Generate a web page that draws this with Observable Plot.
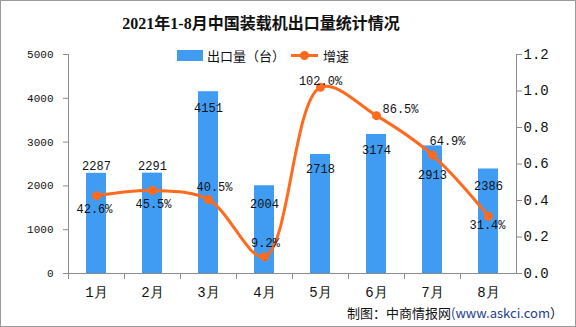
<!DOCTYPE html>
<html>
<head>
<meta charset="utf-8">
<script src="https://cdn.jsdelivr.net/npm/d3@7"></script>
<script src="https://cdn.jsdelivr.net/npm/@observablehq/plot@0.6"></script>
<style>
  body { margin: 0; background: #fff; }
  #wrap { position: relative; width: 576px; height: 327px; overflow: hidden; background: #fff; }
  #border { position: absolute; left: 0; top: 0; width: 574px; height: 325px; border: 1px solid #9a9a9a; pointer-events: none; }
  #title { position: absolute; top: 10px; left: 0; width: 522px; text-align: center; font: bold 16px "Liberation Serif", "Noto Sans CJK SC", serif; color: #111; }
  #legend { position: absolute; top: 46px; left: 177px; font: 13px "Noto Sans CJK SC", sans-serif; color: #111; display: flex; align-items: center; }
  #legend .sw { display: inline-block; width: 26px; height: 11px; background: #3F9CF2; margin-right: 4px; }
  #legend .ln { position: relative; display: inline-block; width: 27px; height: 3px; background: #FF6A1F; margin: 0 5px 0 6px; }
  #legend .ln::after { content: ""; position: absolute; left: 9px; top: -3px; width: 9px; height: 9px; border-radius: 50%; background: #FF6A1F; }
  #caption { position: absolute; top: 303px; left: 347px; font: 13px "Noto Sans CJK SC", sans-serif; color: #111; white-space: nowrap; }
  #caption .url { color: #23408e; }
  #chart { position: absolute; left: 0; top: 0; }
</style>
</head>
<body>
<div id="wrap">
  <div id="chart"></div>
  <div id="title">2021年1-8月中国装载机出口量统计情况</div>
  <div id="legend"><span class="sw"></span><span>出口量（台）</span><span class="ln"></span><span>增速</span></div>
  <div id="caption">制图：中商情报网<span class="url">(www.askci.com</span>）</div>
  <div id="border"></div>
</div>
<script>
const months = ["1月", "2月", "3月", "4月", "5月", "6月", "7月", "8月"];
const exportsQty = [2287, 2291, 4151, 2004, 2718, 3174, 2913, 2386];
const growth = [0.426, 0.455, 0.405, 0.092, 1.020, 0.865, 0.649, 0.314];
const leftTicks = [0, 1000, 2000, 3000, 4000, 5000];
const rightTicks = [0, 0.2, 0.4, 0.6, 0.8, 1.0, 1.2];

const leftMax = 5000, rightMax = 1.2;
const k = leftMax / rightMax;

const rows = months.map((m, i) => ({month: m, qty: exportsQty[i], rate: growth[i], scaled: growth[i] * k, i}));

// label placement (style, not data)
const barLabelDy = [-7, -7, 16, 18, 15, 16, 29, 17];
const rateLabelOff = [[-2, 13], [1, 14], [6, -12], [1, -14], [0, -6], [24, -6], [15, -14], [-1, 9]];

const BLUE = "#3F9CF2", ORANGE = "#FF6A1F", AXIS = "#8c8c8c";
const mono = "'Liberation Mono', 'DejaVu Sans Mono', monospace";

const marks = [
  Plot.barY(rows, {x: "month", y: "qty", fill: BLUE, insetLeft: 18, insetRight: 18}),
  Plot.line(rows, {x: "month", y: "scaled", stroke: ORANGE, strokeWidth: 3, curve: "catmull-rom"}),
  Plot.dot(rows, {x: "month", y: "scaled", r: 4.5, fill: ORANGE}),
  Plot.frame({anchor: "left", stroke: AXIS}),
  Plot.frame({anchor: "right", stroke: AXIS}),
  Plot.frame({anchor: "bottom", stroke: AXIS}),
  Plot.axisY({anchor: "left", ticks: leftTicks, tickSize: 5, tickPadding: 10, tickFormat: d => String(d), fontSize: 11, stroke: AXIS, fill: "#111", label: null}),
  Plot.axisY({anchor: "right", ticks: rightTicks.map(v => v * k), tickSize: 5, tickPadding: 2, tickFormat: d => (d / k).toFixed(1), fontSize: 14, stroke: AXIS, fill: "#111", label: null}),
  Plot.axisX({anchor: "bottom", tickSize: 6, dx: -28, tickFormat: () => "", stroke: AXIS, label: null}),
  Plot.axisX({anchor: "bottom", tickSize: 0, tickPadding: 14, fontSize: 14, fill: "#111", label: null})
];
rows.forEach((r, i) => {
  marks.push(Plot.text([r], {x: "month", y: "qty", text: d => String(d.qty), dy: barLabelDy[i], fontSize: 12, fill: "#111"}));
  marks.push(Plot.text([r], {x: "month", y: "scaled", text: d => (d.rate * 100).toFixed(1) + "%", dx: rateLabelOff[i][0], dy: rateLabelOff[i][1], fontSize: 12, fill: "#111"}));
});

const chart = Plot.plot({
  width: 576,
  height: 327,
  marginLeft: 68,
  marginRight: 60,
  marginTop: 54,
  marginBottom: 54,
  style: {fontFamily: mono, background: "transparent", color: "#111"},
  x: {domain: months, padding: 0, axis: null},
  y: {domain: [0, leftMax], axis: null},
  marks
});
document.getElementById("chart").appendChild(chart);
</script>
</body>
</html>
